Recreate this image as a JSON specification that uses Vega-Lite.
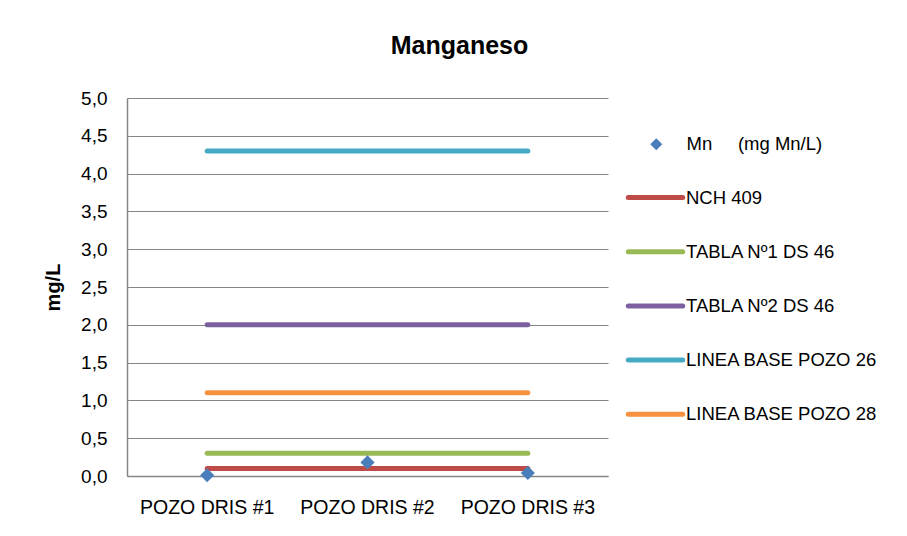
{
  "$schema": "https://vega.github.io/schema/vega-lite/v6.json",
  "width": 481,
  "height": 378,
  "autosize": {"type": "none"},
  "padding": {"left": 127, "top": 98, "right": 299, "bottom": 60},
  "background": "white",
  "config": {
    "font": "Liberation Sans",
    "view": {"stroke": null},
    "axis": {"labelFont": "Liberation Sans", "labelColor": "#000000", "titleColor": "#000000", "domainColor": "#868686", "gridColor": "#868686", "ticks": false}
  },
  "title": {"text": "Manganeso", "fontSize": 25, "fontWeight": "bold", "color": "#000000", "anchor": "middle", "frame": "group", "dx": 92, "offset": 30},
  "datasets": {
    "lines": [
      {"pozo": "POZO DRIS #1", "serie": "NCH 409", "valor": 0.1},
      {"pozo": "POZO DRIS #2", "serie": "NCH 409", "valor": 0.1},
      {"pozo": "POZO DRIS #3", "serie": "NCH 409", "valor": 0.1},
      {"pozo": "POZO DRIS #1", "serie": "TABLA Nº1 DS 46", "valor": 0.3},
      {"pozo": "POZO DRIS #2", "serie": "TABLA Nº1 DS 46", "valor": 0.3},
      {"pozo": "POZO DRIS #3", "serie": "TABLA Nº1 DS 46", "valor": 0.3},
      {"pozo": "POZO DRIS #1", "serie": "TABLA Nº2 DS 46", "valor": 2.0},
      {"pozo": "POZO DRIS #2", "serie": "TABLA Nº2 DS 46", "valor": 2.0},
      {"pozo": "POZO DRIS #3", "serie": "TABLA Nº2 DS 46", "valor": 2.0},
      {"pozo": "POZO DRIS #1", "serie": "LINEA BASE POZO 26", "valor": 4.3},
      {"pozo": "POZO DRIS #2", "serie": "LINEA BASE POZO 26", "valor": 4.3},
      {"pozo": "POZO DRIS #3", "serie": "LINEA BASE POZO 26", "valor": 4.3},
      {"pozo": "POZO DRIS #1", "serie": "LINEA BASE POZO 28", "valor": 1.1},
      {"pozo": "POZO DRIS #2", "serie": "LINEA BASE POZO 28", "valor": 1.1},
      {"pozo": "POZO DRIS #3", "serie": "LINEA BASE POZO 28", "valor": 1.1}
    ],
    "mn": [
      {"pozo": "POZO DRIS #1", "serie": "Mn\u00a0\u00a0\u00a0\u00a0\u00a0(mg Mn/L)", "valor": 0.01},
      {"pozo": "POZO DRIS #2", "serie": "Mn\u00a0\u00a0\u00a0\u00a0\u00a0(mg Mn/L)", "valor": 0.18},
      {"pozo": "POZO DRIS #3", "serie": "Mn\u00a0\u00a0\u00a0\u00a0\u00a0(mg Mn/L)", "valor": 0.04}
    ]
  },
  "encoding": {
    "x": {
      "field": "pozo", "type": "nominal",
      "scale": {"type": "band", "domain": ["POZO DRIS #1", "POZO DRIS #2", "POZO DRIS #3"], "paddingInner": 0, "paddingOuter": 0},
      "axis": {"title": null, "labelAngle": 0, "labelFontSize": 19.5, "labelPadding": 22, "grid": false, "domainWidth": 1.5}
    },
    "y": {
      "field": "valor", "type": "quantitative",
      "scale": {"domain": [0, 5], "nice": false, "zero": true},
      "axis": {
        "title": "mg/L", "titleFontSize": 20, "titleFontWeight": "bold", "titleFont": "Liberation Sans", "titlePadding": 17,
        "values": [0, 0.5, 1, 1.5, 2, 2.5, 3, 3.5, 4, 4.5, 5],
        "labelExpr": "replace(format(datum.value, '.1f'), '.', ',')",
        "labelFontSize": 19, "labelPadding": 20, "grid": true, "gridWidth": 1.2, "domainWidth": 1.5
      }
    }
  },
  "layer": [
    {
      "data": {"name": "lines"},
      "mark": {"type": "line", "strokeWidth": 5, "strokeCap": "round"},
      "encoding": {
        "color": {
          "field": "serie", "type": "nominal",
          "scale": {
            "domain": ["NCH 409", "TABLA Nº1 DS 46", "TABLA Nº2 DS 46", "LINEA BASE POZO 26", "LINEA BASE POZO 28"],
            "range": ["#BE4B48", "#98B954", "#7D60A0", "#46AAC5", "#F69240"]
          },
          "legend": {
            "title": null, "orient": "none", "legendX": 512, "legendY": 83, "padding": 0,
            "symbolType": "M-2,0H2", "symbolSize": 740, "symbolStrokeWidth": 5, "symbolFillColor": "transparent",
            "labelFontSize": 18.5, "labelColor": "#000000", "labelOffset": 14, "rowPadding": 27.2,
            "labelLimit": 300,
            "encode": {"symbols": {"update": {"strokeCap": {"value": "round"}}}}
          }
        }
      }
    },
    {
      "data": {"name": "mn"},
      "mark": {"type": "point", "filled": true, "size": 200, "opacity": 1, "color": "#4A7EBB"},
      "encoding": {
        "shape": {
          "field": "serie", "type": "nominal",
          "scale": {"range": ["diamond"]},
          "legend": {
            "title": null, "orient": "none", "legendX": 520, "legendY": 37, "padding": 0,
            "symbolSize": 144, "symbolFillColor": "#4A7EBB", "symbolStrokeColor": "#4A7EBB", "symbolStrokeWidth": 0,
            "labelFontSize": 18.5, "labelColor": "#000000", "labelOffset": 21, "labelLimit": 300
          }
        }
      }
    }
  ]
}
